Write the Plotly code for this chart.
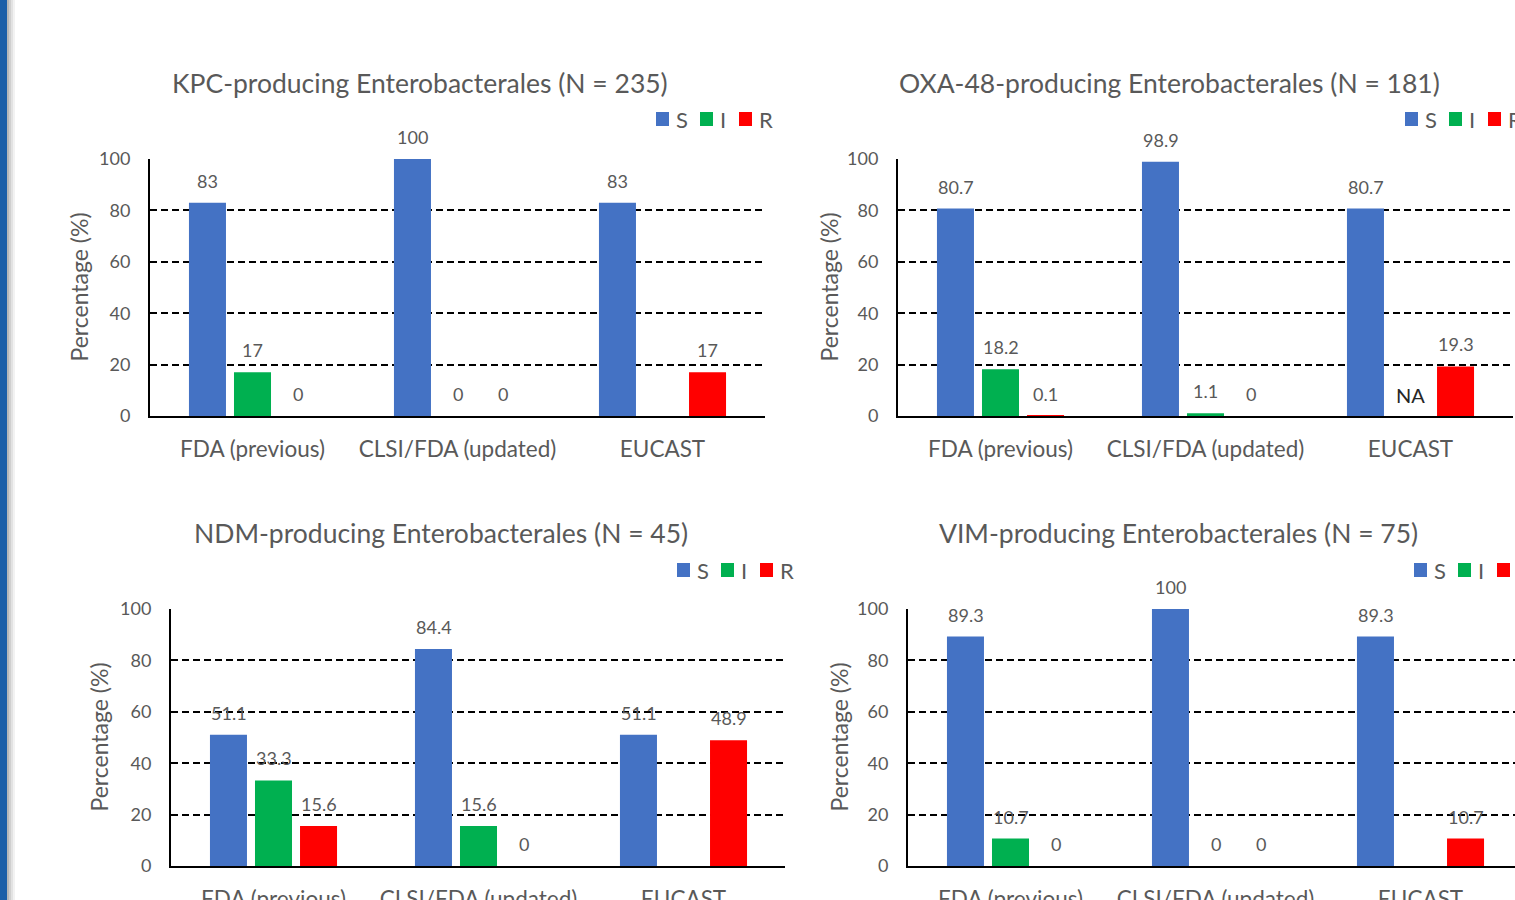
import plotly.graph_objects as go

W, H = 1515, 900

categories = ["FDA (previous)", "CLSI/FDA (updated)", "EUCAST"]
series_names = ["S", "I", "R"]
y_ticks = [0, 20, 40, 60, 80, 100]

titles = [
    "KPC-producing Enterobacterales (N = 235)",
    "OXA-48-producing Enterobacterales (N = 181)",
    "NDM-producing Enterobacterales (N = 45)",
    "VIM-producing Enterobacterales (N = 75)",
]

kpc_S = [83, 100, 83]
kpc_I = [17, 0, None]
kpc_R = [0, 0, 17]

oxa_S = [80.7, 98.9, 80.7]
oxa_I = [18.2, 1.1, None]
oxa_R = [0.1, 0, 19.3]

ndm_S = [51.1, 84.4, 51.1]
ndm_I = [33.3, 15.6, None]
ndm_R = [15.6, 0, 48.9]

vim_S = [89.3, 100, 89.3]
vim_I = [10.7, 0, None]
vim_R = [0, 0, 10.7]

# label shown where a value is missing ("" = no label)
missing_label = ["", "NA", "", ""]

datasets = [
    (kpc_S, kpc_I, kpc_R),
    (oxa_S, oxa_I, oxa_R),
    (ndm_S, ndm_I, ndm_R),
    (vim_S, vim_I, vim_R),
]

colors = ["#4472C4", "#00B050", "#FF0000"]
FONT = "Lato"
GREY = "#595959"

# layout geometry in pixels: (axis left, axis right, top(100), bottom(0))
boxes = [
    (150, 765, 159, 416),
    (898, 1513, 159, 416),
    (171, 785, 609, 866),
    (908, 1515, 609, 866),
]
title_pos = [(420, 83), (1169, 83), (441, 533), (1178, 533)]
ytitle_x = [78, 828, 98, 838]
legend_pos = [(656, 119), (1405, 119), (677, 570), (1414, 570)]
cat_px = 205.0

fig = go.Figure()
annotations = []
shapes = []

def px(x):
    return x / W

def py(y):
    return 1 - y / H

offsets = [-45, 0, 45]

for i, (vals, box) in enumerate(zip(datasets, boxes)):
    n = "" if i == 0 else str(i + 1)
    xa, ya = "x" + n, "y" + n
    l, r, t, b = box
    width = r - l
    xr = [-0.5, -0.5 + width / cat_px]
    fig.layout["xaxis" + n] = dict(
        domain=[px(l), px(r)], anchor=ya, type="category", range=xr,
        automargin=False,
        showline=True, linecolor="black", linewidth=2, showgrid=False,
        ticks="", ticklabelstandoff=12,
        tickfont=dict(family=FONT, size=22.5, color=GREY), fixedrange=True,
    )
    fig.layout["yaxis" + n] = dict(
        domain=[py(b), py(t)], anchor=xa, range=[0, 100], automargin=False,
        tickvals=y_ticks, showline=True, linecolor="black", linewidth=2,
        showgrid=True, gridcolor="black", gridwidth=1.8, griddash="7px,4px",
        zeroline=False, ticks="", ticklabelstandoff=14,
        tickfont=dict(family=FONT, size=18, color=GREY), fixedrange=True,
    )
    for k, (serie, name, col) in enumerate(zip(vals, series_names, colors)):
        fig.add_trace(go.Bar(
            x=categories, y=serie, name=name, marker_color=col,
            marker_line_width=0, xaxis=xa, yaxis=ya, showlegend=False,
            hoverinfo="skip",
        ))
        for c, v in zip(categories, serie):
            if v is None:
                if missing_label[i]:
                    annotations.append(dict(
                        x=c, y=0, xref=xa, yref=ya, text=missing_label[i],
                        showarrow=False, xshift=offsets[k], yshift=21,
                        font=dict(family=FONT, size=20, color="#262626"),
                    ))
                continue
            annotations.append(dict(
                x=c, y=v, xref=xa, yref=ya, text=f"{v:g}", showarrow=False,
                xshift=offsets[k], yshift=22,
                font=dict(family=FONT, size=18, color=GREY),
            ))
    # title
    tx, ty = title_pos[i]
    annotations.append(dict(
        x=px(tx), y=py(ty), xref="paper", yref="paper", text=titles[i],
        showarrow=False, xanchor="center", yanchor="middle",
        font=dict(family=FONT, size=26.5, color=GREY),
    ))
    # y axis title
    annotations.append(dict(
        x=px(ytitle_x[i]), y=py((t + b) / 2), xref="paper", yref="paper",
        text="Percentage (%)", textangle=-90, showarrow=False,
        xanchor="center", yanchor="middle",
        font=dict(family=FONT, size=23, color=GREY),
    ))
    # legend
    lx, ly = legend_pos[i]
    for k, (name, col) in enumerate(zip(series_names, colors)):
        sx = lx + [0, 44, 83][k]
        shapes.append(dict(
            type="rect", xref="paper", yref="paper",
            x0=px(sx), x1=px(sx + 13), y0=py(ly + 7), y1=py(ly - 7),
            fillcolor=col, line_width=0,
        ))
        annotations.append(dict(
            x=px(sx + 18), y=py(ly), xref="paper", yref="paper", text=name,
            showarrow=False, xanchor="left", yanchor="middle",
            font=dict(family=FONT, size=22, color=GREY),
        ))

# left page border (blue strip with a soft grey shadow)
shapes.append(dict(type="rect", xref="paper", yref="paper", x0=0, x1=px(7),
                   y0=0, y1=1, fillcolor="#1C5FA8", line_width=0))
for j, c in enumerate(["#b8b8b8", "#cfcfcf", "#e2e2e2", "#f2f2f2"]):
    shapes.append(dict(type="rect", xref="paper", yref="paper",
                       x0=px(7 + 2 * j), x1=px(9 + 2 * j), y0=0, y1=1,
                       fillcolor=c, line_width=0))

fig.update_layout(
    width=W, height=H, margin=dict(l=0, r=0, t=0, b=0, autoexpand=False),
    paper_bgcolor="white", plot_bgcolor="white",
    barmode="group", bargap=0.341, bargroupgap=0.178,
    annotations=annotations, shapes=shapes, showlegend=False,
)

fig.write_html(
    "out.html",
    config={"displayModeBar": False},
    post_script=(
        "var d=document.getElementById('{plot_id}');"
        "var p=d.parentElement;p.style.position='fixed';p.style.top='0';"
        "p.style.left='0';p.style.margin='0';"
        "document.body.style.margin='0';document.body.style.overflow='hidden';"
        "document.documentElement.style.overflow='hidden';"
    ),
)
